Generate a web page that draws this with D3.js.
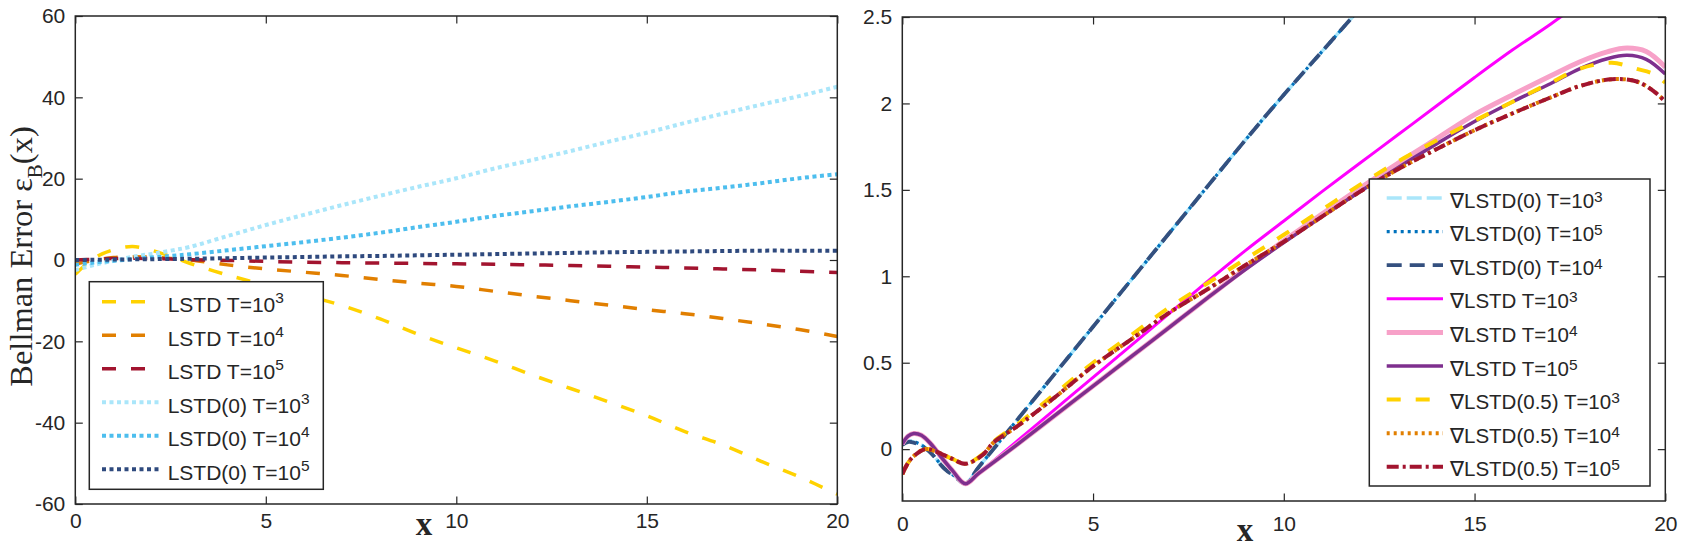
<!DOCTYPE html>
<html lang="en">
<head>
<meta charset="utf-8">
<title>Bellman error of LSTD variants</title>
<script src="https://d3js.org/d3.v7.min.js"></script>
<style>
  body { margin: 0; background: #fff; }
  svg text { font-family: 'Liberation Sans', Arial, Helvetica, sans-serif; fill: #262626; }
  .tick text { font-size: 21px; }
  .tick line { stroke: #262626; stroke-width: 1.2; }
  .serif { font-family: 'Liberation Serif', 'Times New Roman', serif !important; }
</style>
</head>
<body>
<svg id="fig" width="1685" height="547"></svg>
<script>
// ---- left panel : Bellman error of LSTD / LSTD(0) ----
var xLeft = [0, 0.5, 1, 1.5, 2, 2.5, 3, 4, 5, 6, 7, 8, 9, 10, 11, 12, 13, 14, 15, 16, 17, 18, 19, 20];
var lstd1e3 = [-3.5, 0.5, 2.5, 3.3, 2.4, 0.9, -0.8, -3.7, -6.2, -8.6, -11.2, -14.5, -18.3, -21.6, -24.8, -28.3, -31.6, -34.9, -38.3, -42.2, -45.5, -49.5, -53.3, -57.6];
var lstd1e4 = [-1.0, -0.1, 0.6, 0.8, 0.7, 0.4, 0.0, -1.2, -2.2, -3.0, -3.8, -4.8, -5.7, -6.5, -7.7, -8.9, -10.0, -11.1, -12.2, -13.2, -14.4, -15.7, -17.1, -18.8];
var lstd1e5 = [0, 0.2, 0.35, 0.4, 0.35, 0.25, 0.1, -0.1, -0.35, -0.55, -0.65, -0.75, -0.85, -0.95, -1.05, -1.2, -1.35, -1.55, -1.75, -1.95, -2.2, -2.45, -2.75, -3.1];
var lstd0_1e3 = [-2.5, -1.2, -0.2, 0.8, 1.5, 2.3, 3.2, 5.9, 8.6, 11.1, 13.5, 15.8, 18.0, 20.1, 22.5, 24.6, 26.8, 29.1, 31.3, 33.7, 36.0, 38.2, 40.3, 42.6];
var lstd0_1e4 = [-1.2, -0.6, -0.2, 0.2, 0.6, 1.0, 1.4, 2.4, 3.4, 4.4, 5.5, 6.7, 8.1, 9.4, 10.8, 12.0, 13.2, 14.3, 15.5, 16.8, 17.8, 18.9, 20.1, 21.1];
var lstd0_1e5 = [0, 0.05, 0.1, 0.15, 0.2, 0.25, 0.3, 0.45, 0.6, 0.75, 0.9, 1.0, 1.15, 1.3, 1.45, 1.6, 1.75, 1.9, 2.0, 2.1, 2.2, 2.3, 2.3, 2.3];
var leftNames = ["LSTD T=10", "LSTD T=10", "LSTD T=10", "LSTD(0) T=10", "LSTD(0) T=10", "LSTD(0) T=10"];
var leftExps = ["3", "4", "5", "3", "4", "5"];
var leftYTicks = [-60, -40, -20, 0, 20, 40, 60];

// ---- right panel : gradient LSTD variants ----
var xGrad0 = [0, 0.17, 0.4, 0.7, 1.1, 1.4, 1.65, 2, 3, 4, 5, 6, 7, 8, 9, 10, 11, 12];
var grad0_1e3 = [0.03, 0.045, 0.035, -0.01, -0.11, -0.16, -0.2, -0.105, 0.166, 0.437, 0.708, 0.979, 1.25, 1.52, 1.79, 2.05, 2.3, 2.55];
var grad0_1e5 = [0.03, 0.045, 0.035, -0.01, -0.11, -0.16, -0.2, -0.105, 0.166, 0.437, 0.708, 0.979, 1.25, 1.52, 1.79, 2.05, 2.3, 2.55];
var grad0_1e4 = [0.025, 0.042, 0.03, -0.012, -0.112, -0.162, -0.2, -0.105, 0.166, 0.437, 0.708, 0.979, 1.25, 1.52, 1.79, 2.05, 2.3, 2.55];
var xGradMag = [0, 0.15, 0.3, 0.5, 0.75, 1.0, 1.3, 1.65, 2, 3, 4, 5, 6, 7, 8, 9, 10, 11, 12, 13, 14, 15, 16, 17, 18];
var grad_1e3 = [0.03, 0.075, 0.09, 0.08, 0.03, -0.04, -0.12, -0.2, -0.14, 0.045, 0.23, 0.415, 0.6, 0.785, 0.97, 1.15, 1.32, 1.49, 1.655, 1.82, 1.985, 2.15, 2.31, 2.46, 2.62];
var xGrad = [0, 0.15, 0.3, 0.5, 0.75, 1.0, 1.3, 1.65, 2, 3, 4, 5, 6, 7, 8, 9, 10, 11, 12, 13, 14, 15, 16, 17, 17.75, 18.5, 19, 19.5, 20];
var grad_1e4 = [0.03, 0.075, 0.09, 0.08, 0.03, -0.04, -0.12, -0.2, -0.14, 0.025, 0.195, 0.365, 0.535, 0.705, 0.875, 1.045, 1.205, 1.36, 1.51, 1.655, 1.795, 1.935, 2.05, 2.16, 2.24, 2.3, 2.32, 2.3, 2.21];
var grad_1e5 = [0.03, 0.075, 0.09, 0.08, 0.03, -0.04, -0.12, -0.2, -0.14, 0.025, 0.195, 0.365, 0.535, 0.705, 0.875, 1.04, 1.195, 1.345, 1.49, 1.63, 1.765, 1.895, 2.01, 2.115, 2.2, 2.26, 2.278, 2.255, 2.17];
var xGradHalf = [0, 0.15, 0.3, 0.6, 0.9, 1.1, 1.35, 1.65, 2.1, 2.4, 3, 4, 5, 6, 7, 8, 9, 10, 11, 12, 13, 14, 15, 16, 17, 17.75, 18.6, 19.25, 19.7, 20];
var gradHalf_1e3 = [-0.145, -0.08, -0.04, 0.0, -0.015, -0.035, -0.06, -0.085, -0.03, 0.045, 0.14, 0.32, 0.5, 0.66, 0.82, 0.96, 1.1, 1.24, 1.385, 1.53, 1.665, 1.785, 1.9, 2.01, 2.12, 2.2, 2.235, 2.2, 2.17, 2.12];
var gradHalf_1e4 = [-0.145, -0.08, -0.04, 0.0, -0.015, -0.035, -0.06, -0.085, -0.035, 0.04, 0.13, 0.3, 0.48, 0.635, 0.79, 0.925, 1.065, 1.2, 1.345, 1.49, 1.62, 1.735, 1.845, 1.943, 2.035, 2.1, 2.14, 2.127, 2.07, 2.01];
var gradHalf_1e5 = [-0.145, -0.08, -0.04, 0.0, -0.015, -0.035, -0.06, -0.085, -0.035, 0.04, 0.13, 0.3, 0.48, 0.635, 0.79, 0.925, 1.065, 1.2, 1.345, 1.49, 1.62, 1.735, 1.845, 1.943, 2.035, 2.1, 2.14, 2.127, 2.07, 2.01];
var rightNames = ["\u2207LSTD(0) T=10", "\u2207LSTD(0) T=10", "\u2207LSTD(0) T=10", "\u2207LSTD T=10", "\u2207LSTD T=10", "\u2207LSTD T=10",
                  "\u2207LSTD(0.5) T=10", "\u2207LSTD(0.5) T=10", "\u2207LSTD(0.5) T=10"];
var rightExps = ["3", "5", "4", "3", "4", "5", "3", "4", "5"];
var rightYTicks = [0, 0.5, 1, 1.5, 2, 2.5];
var xTicks = [0, 5, 10, 15, 20];

var svg = d3.select("#fig");

// styles for each series (kept apart from the values)
var leftSeries = [
  {x: xLeft, y: lstd1e3, color: "#FFD200", dash: "14,15", w: 3.5},
  {x: xLeft, y: lstd1e4, color: "#E17F00", dash: "14,15", w: 3.5},
  {x: xLeft, y: lstd1e5, color: "#A2142F", dash: "14,15", w: 3.5},
  {x: xLeft, y: lstd0_1e3, color: "#AAE6FA", dash: "4,3.5", w: 4},
  {x: xLeft, y: lstd0_1e4, color: "#4DBEEE", dash: "4,3.5", w: 4},
  {x: xLeft, y: lstd0_1e5, color: "#2F4A7E", dash: "4,3.5", w: 4}
];
var rightSeries = [
  {x: xGrad0, y: grad0_1e3, color: "#AAE6FA", dash: "15,5", w: 3.5},
  {x: xGrad0, y: grad0_1e5, color: "#0072BD", dash: "3,4", w: 3.2},
  {x: xGrad0, y: grad0_1e4, color: "#34507F", dash: "15,8", w: 3.8},
  {x: xGradMag, y: grad_1e3, color: "#FF00FF", dash: null, w: 3},
  {x: xGrad, y: grad_1e4, color: "#F7A1C8", dash: null, w: 5},
  {x: xGrad, y: grad_1e5, color: "#7E2F8E", dash: null, w: 3.5},
  {x: xGradHalf, y: gradHalf_1e3, color: "#FFD200", dash: "14,15", w: 4},
  {x: xGradHalf, y: gradHalf_1e4, color: "#E17F00", dash: "3,4", w: 4},
  {x: xGradHalf, y: gradHalf_1e5, color: "#A2142F", dash: "12,4,3,4", w: 4}
];

function panel(id, box, yDomain, yTicks, xPad, fmt) {
  var g = svg.append("g");
  var x = d3.scaleLinear().domain([0, 20]).range([box.x0, box.x1]);
  var y = d3.scaleLinear().domain(yDomain).range([box.y1, box.y0]);

  g.append("clipPath").attr("id", id).append("rect")
    .attr("x", box.x0).attr("y", box.y0)
    .attr("width", box.x1 - box.x0).attr("height", box.y1 - box.y0);

  var axes = [
    [d3.axisBottom(x).tickValues(xTicks).tickFormat(fmt).tickPadding(xPad), "translate(0," + box.y1 + ")"],
    [d3.axisTop(x).tickValues(xTicks).tickFormat(""), "translate(0," + box.y0 + ")"],
    [d3.axisLeft(y).tickValues(yTicks).tickFormat(fmt).tickPadding(10), "translate(" + box.x0 + ",0)"],
    [d3.axisRight(y).tickValues(yTicks).tickFormat(""), "translate(" + box.x1 + ",0)"]
  ];
  axes.forEach(function(a) {
    var ax = g.append("g").attr("transform", a[1])
      .call(a[0].tickSizeInner(-7.5).tickSizeOuter(0));
    ax.attr("font-size", null).attr("font-family", null);
    ax.select(".domain").remove();
  });

  var plot = g.append("g").attr("clip-path", "url(#" + id + ")");
  g.append("rect")
    .attr("x", box.x0).attr("y", box.y0)
    .attr("width", box.x1 - box.x0).attr("height", box.y1 - box.y0)
    .attr("fill", "none").attr("stroke", "#262626").attr("stroke-width", 1.5);
  return {g: g, plot: plot, x: x, y: y};
}

function drawLines(p, series) {
  series.forEach(function(s) {
    var line = d3.line()
      .x(function(d, i) { return p.x(s.x[i]); })
      .y(function(d) { return p.y(d); })
      .curve(d3.curveCatmullRom.alpha(0.5));
    p.plot.append("path")
      .attr("d", line(s.y))
      .attr("fill", "none")
      .attr("stroke", s.color)
      .attr("stroke-width", s.w)
      .attr("stroke-dasharray", s.dash)
      .attr("stroke-linejoin", "round");
  });
}

function legend(p, series, names, exps, L) {
  var lg = p.g.append("g");
  lg.append("rect")
    .attr("x", L.x).attr("y", L.y).attr("width", L.w).attr("height", L.h)
    .attr("fill", "#fff").attr("stroke", "#262626").attr("stroke-width", 1.5);
  series.forEach(function(s, i) {
    var cy = L.row0 + i * L.step;
    lg.append("line")
      .attr("x1", L.s0).attr("x2", L.s1).attr("y1", cy).attr("y2", cy)
      .attr("stroke", s.color).attr("stroke-width", s.w)
      .attr("stroke-dasharray", s.dash);
    var t = lg.append("text")
      .attr("x", L.tx).attr("y", cy + L.base)
      .style("font-size", L.fs + "px");
    t.append("tspan").text(names[i]);
    t.append("tspan").attr("dy", -L.sup).style("font-size", "15.5px").text(exps[i]);
  });
}

var fmt = function(d) { return String(d); };

var left = panel("clipL", {x0: 75.3, x1: 837.3, y0: 16, y1: 504}, [-60, 60], leftYTicks, 8.6, fmt);
drawLines(left, leftSeries);
legend(left, leftSeries, leftNames, leftExps,
  {x: 89.3, y: 281.7, w: 234, h: 207.6, row0: 301.7, step: 33.5, s0: 102, s1: 160, tx: 167.7, base: 10.3, sup: 9, fs: 21});

var right = panel("clipR", {x0: 902.3, x1: 1665.3, y0: 17, y1: 501}, [-0.3, 2.5], rightYTicks, 14.6, fmt);
drawLines(right, rightSeries);
legend(right, rightSeries, rightNames, rightExps,
  {x: 1369.3, y: 179, w: 280.7, h: 307, row0: 198, step: 33.6, s0: 1386.7, s1: 1443, tx: 1450, base: 9.5, sup: 6, fs: 20.5});

// axis titles
var yl = svg.append("text").attr("class", "serif")
  .attr("transform", "translate(31.7,256.5) rotate(-90)")
  .attr("text-anchor", "middle")
  .style("font-size", "32.5px");
yl.append("tspan").text("Bellman Error \u03B5");
yl.append("tspan").attr("dy", 10).style("font-size", "21px").text("B");
yl.append("tspan").attr("dy", -10).text("(x)");

svg.append("text").attr("class", "serif")
  .attr("x", 424).attr("y", 535).attr("text-anchor", "middle")
  .style("font-size", "33px").style("font-weight", "bold").text("x");
svg.append("text").attr("class", "serif")
  .attr("x", 1245).attr("y", 541).attr("text-anchor", "middle")
  .style("font-size", "33px").style("font-weight", "bold").text("x");
</script>
</body>
</html>
